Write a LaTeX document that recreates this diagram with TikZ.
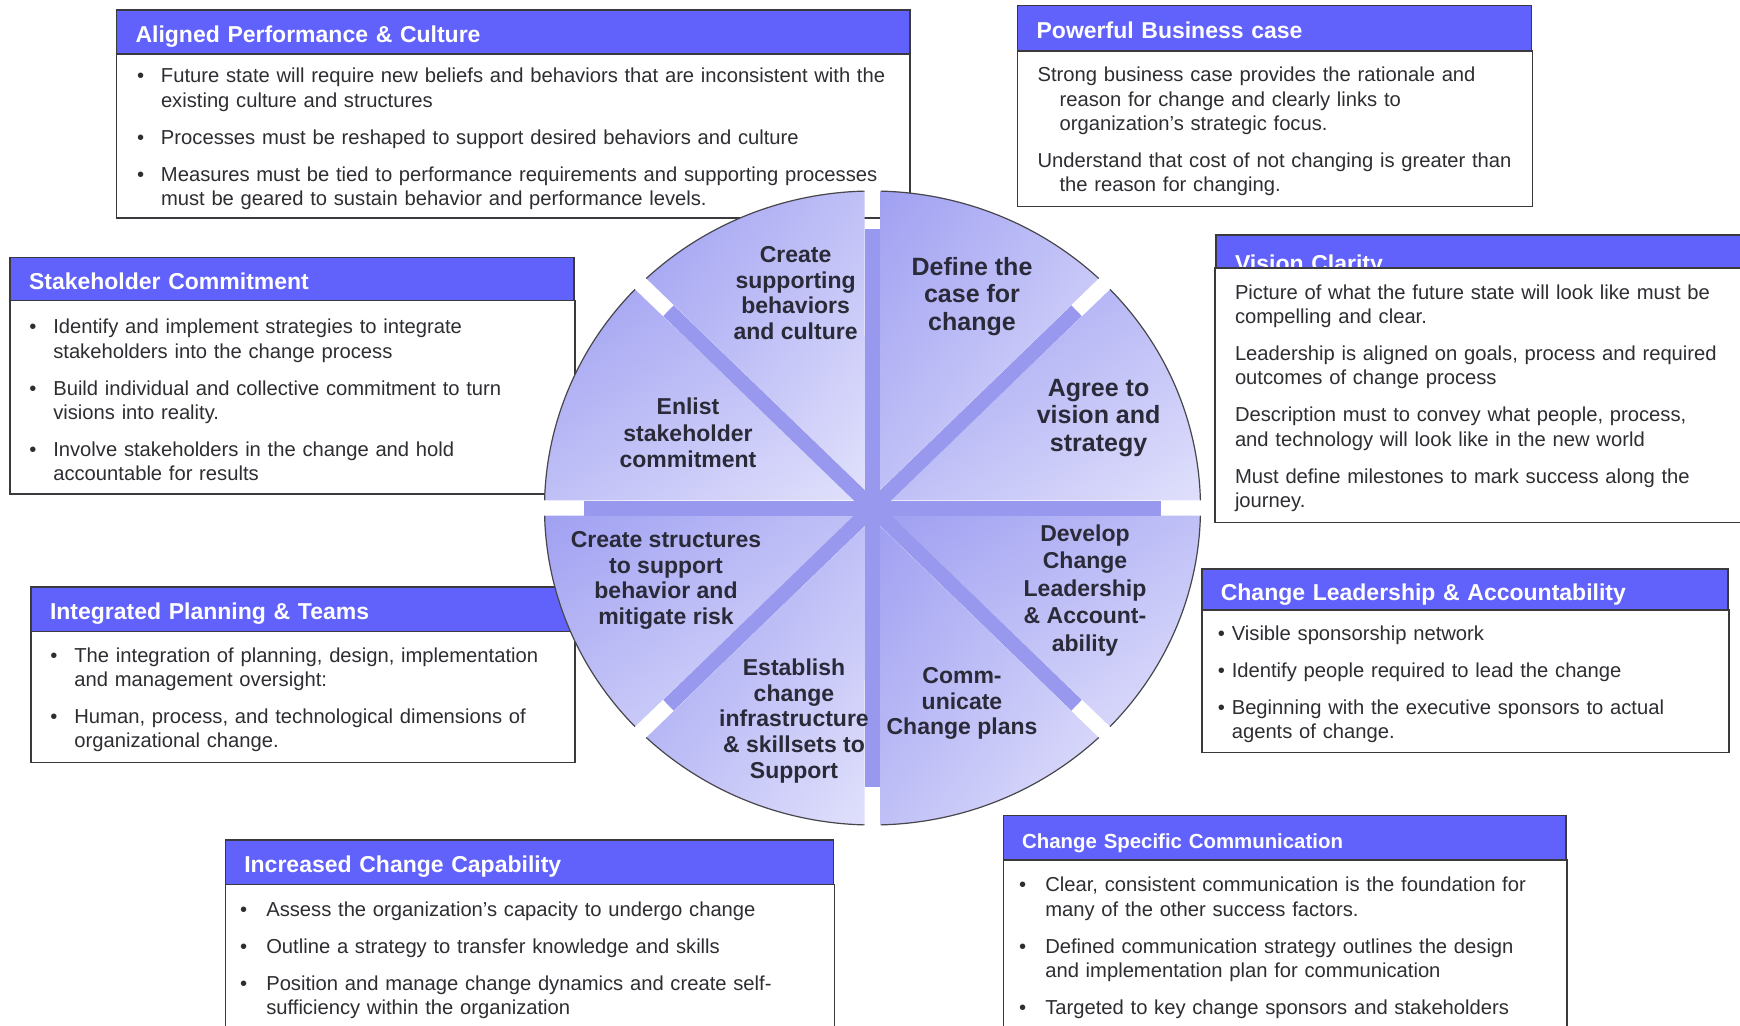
\documentclass[tikz,border=0pt]{standalone}
\usepackage{fontspec}
\setmainfont{Liberation Sans}
\usetikzlibrary{calc,shadings}

\definecolor{hdrblue}{RGB}{97,97,252}
\definecolor{boxline}{RGB}{58,58,62}
\definecolor{bodytext}{RGB}{45,45,50}
\definecolor{whltext}{RGB}{42,42,56}
\definecolor{wedgedark}{RGB}{160,160,242}
\definecolor{wedgemid}{RGB}{192,192,247}
\definecolor{wedgelight}{RGB}{224,224,252}
\definecolor{spokeblue}{RGB}{152,152,238}
\definecolor{rimline}{RGB}{70,70,76}

\newlength{\bhang}
\newcommand{\bstart}[1]{\setlength{\bhang}{#1}\rule{0pt}{10.2pt}}
\newcommand{\bul}[1]{\hangindent=\bhang\hangafter=1\rightskip=-20pt plus 1fil\noindent\makebox[\bhang][l]{\textbullet}#1\par}
\newcommand{\bpar}[1]{\hangindent=\bhang\hangafter=1\rightskip=-20pt plus 1fil\noindent#1\par}
\newcommand{\bodyfont}{\fontsize{10.1pt}{12.2pt}\selectfont\setlength{\parskip}{6.3pt}}
\newcommand{\hdrfont}{\fontsize{11.5pt}{13pt}\selectfont\bfseries}
\newcommand{\whlfont}{\fontsize{11.5pt}{12.9pt}\selectfont\bfseries}

\begin{document}
\begin{tikzpicture}[x=0.5pt,y=-0.5pt]
  \tikzstyle{hdr}=[rectangle,draw=boxline,line width=0.7pt,fill=hdrblue,text=white,font=\hdrfont,align=left,anchor=north west,outer sep=0pt,inner xsep=9.5pt,inner ysep=0pt,text height=10.5pt,text depth=0pt]
  \tikzstyle{body}=[rectangle,draw=boxline,line width=0.7pt,fill=white,text=bodytext,font=\bodyfont,align=left,anchor=north west,outer sep=0pt,inner ysep=2pt]
  \tikzstyle{wedge}=[upper left=wedgedark,upper right=wedgemid,lower left=wedgemid,lower right=wedgelight]
  \tikzstyle{rim}=[draw=rimline,line width=0.6pt]
  \tikzstyle{spoke}=[draw=spokeblue,line width=7.5pt]
  \tikzstyle{whltxt}=[align=center,font=\whlfont,text=whltext,inner sep=0pt]
  \clip (0,0) rectangle (1740,1026);
  \node (hdrA) at (116.5,10) [hdr,text width=377.75pt,minimum height=22pt] {Aligned Performance \& Culture};
  \node (bodyA) at (hdrA.south west) [body,text width=376.25pt,inner xsep=10.25pt,minimum height=82.1pt] {\bstart{12pt}%
    \bul{Future state will require new beliefs and behaviors that are inconsistent with the\newline existing culture and structures}
    \bul{Processes must be reshaped to support desired behaviors and culture}
    \bul{Measures must be tied to performance requirements and supporting processes\newline must be geared to sustain behavior and performance levels.}};
  \node (hdrB) at (1017.6,5.5) [hdr,text width=238pt,minimum height=22.75pt] {Powerful Business case};
  \node (bodyB) at (hdrB.south west) [body,text width=237.45pt,inner xsep=10pt,minimum height=77.7pt] {\bstart{11pt}%
    \bpar{Strong business case provides the rationale and\newline reason for change and clearly links to\newline organization’s strategic focus.}
    \bpar{Understand that cost of not changing is greater than\newline the reason for changing.}};
  \node (hdrC) at (1216,235) [hdr,text width=253pt,minimum height=26pt] {Vision Clarity};
  \node (bodyC) at (1215,268) [body,text width=252.5pt,inner xsep=10pt,minimum height=127.35pt] {\bstart{0pt}%
    \bpar{Picture of what the future state will look like must be\newline compelling and clear.}
    \bpar{Leadership is aligned on goals, process and required\newline outcomes of change process}
    \bpar{Description must to convey what people, process,\newline and technology will look like in the new world}
    \bpar{Must define milestones to mark success along the\newline journey.}};
  \node (hdrD) at (10,257.5) [hdr,text width=262.9pt,minimum height=21.6pt] {Stakeholder Commitment};
  \node (bodyD) at (hdrD.south west) [body,text width=263.1pt,inner xsep=9.65pt,minimum height=96.55pt] {\bstart{12pt}%
    \bul{Identify and implement strategies to integrate\newline stakeholders into the change process}
    \bul{Build individual and collective commitment to turn\newline visions into reality.}
    \bul{Involve stakeholders in the change and hold\newline accountable for results}};
  \node (hdrE) at (31,587) [hdr,text width=252.4pt,minimum height=22.2pt] {Integrated Planning \& Teams};
  \node (bodyE) at (hdrE.south west) [body,text width=252.5pt,inner xsep=9.7pt,minimum height=65.5pt] {\bstart{12pt}%
    \bul{The integration of planning, design, implementation\newline and management oversight:}
    \bul{Human, process, and technological dimensions of\newline organizational change.}};
  \node (hdrF) at (1201.8,569) [hdr,text width=244pt,minimum height=20.5pt] {Change Leadership \& Accountability};
  \node (bodyF) at (hdrF.south west) [body,text width=247.55pt,inner xsep=8pt,minimum height=71.2pt] {\bstart{7pt}%
    \bul{Visible sponsorship network}
    \bul{Identify people required to lead the change}
    \bul{Beginning with the executive sponsors to actual\newline agents of change.}};
  \node (hdrG) at (225.3,840) [hdr,text width=285.1pt,minimum height=22.2pt] {Increased Change Capability};
  \node (bodyG) at (hdrG.south west) [body,text width=289.9pt,inner xsep=7.35pt,minimum height=72.8pt] {\bstart{13.15pt}%
    \bul{Assess the organization’s capacity to undergo change}
    \bul{Outline a strategy to transfer knowledge and skills}
    \bul{Position and manage change dynamics and create self-\newline sufficiency within the organization}};
  \node (hdrH) at (1003.2,815.6) [hdr,text width=262.35pt,minimum height=22.2pt,font=\fontsize{10.2pt}{12pt}\selectfont\bfseries] {Change Specific Communication};
  \node (bodyH) at (hdrH.south west) [body,text width=266.05pt,inner xsep=7.9pt,minimum height=85pt] {\bstart{13.15pt}%
    \bul{Clear, consistent communication is the foundation for\newline many of the other success factors.}
    \bul{Defined communication strategy outlines the design\newline and implementation plan for communication}
    \bul{Targeted to key change sponsors and stakeholders}};
  \coordinate (whl) at (872.5,508);
  \foreach \i in {0,...,7} {
    \pgfmathsetmacro{\a}{45*\i}
    \shade[wedge] ($(whl)+(\a+22.5:19.6)$) -- ($(whl)+(\a+1.4:328 and 317)$) arc[start angle=\a+1.4,end angle=\a+43.6,x radius=328,y radius=317] -- cycle;
    \path[rim] ($(whl)+(\a+1.4:328 and 317)$) arc[start angle=\a+1.4,end angle=\a+43.6,x radius=328,y radius=317];
  }
  \foreach \a in {0,45,...,315}
    \path[spoke] (whl) -- ($(whl)+(\a:288.6 and 279)$);
  \node (wCreate)  at (795.6,293)  [whltxt] {Create\\supporting\\behaviors\\and culture};
  \node (wDefine)  at (972,296.5)  [whltxt,font=\fontsize{12.5pt}{13.75pt}\selectfont\bfseries] {Define the\\case for\\change};
  \node (wAgree)   at (1098.6,418) [whltxt,font=\fontsize{12.5pt}{13.75pt}\selectfont\bfseries] {Agree to\\vision and\\strategy};
  \node (wDevelop) at (1085,590.5) [whltxt,font=\fontsize{11.5pt}{13.75pt}\selectfont\bfseries] {Develop\\Change\\Leadership\\\& Account-\\ability};
  \node (wComm)    at (962,703.5)  [whltxt] {Comm-\\unicate\\Change plans};
  \node (wEstab)   at (794,721)    [whltxt] {Establish\\change\\infrastructure\\\& skillsets to\\Support};
  \node (wStruct)  at (666,580.5)  [whltxt] {Create structures\\to support\\behavior and\\mitigate risk};
  \node (wEnlist)  at (688,433)    [whltxt,font=\fontsize{11.5pt}{13.3pt}\selectfont\bfseries] {Enlist\\stakeholder\\commitment};
\end{tikzpicture}
\end{document}
